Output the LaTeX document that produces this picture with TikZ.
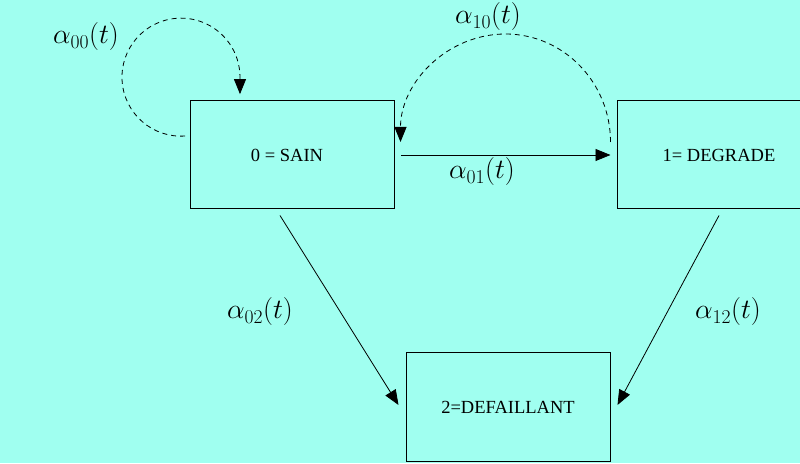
\RequirePackage{fix-cm}
\documentclass[tikz,border=0pt]{standalone}
\usepackage{fontspec}
\newfontfamily\boxfont{Liberation Serif}
\usetikzlibrary{arrows.meta}
\definecolor{bgc}{RGB}{160,255,240}
\tikzset{
  statebox/.style={draw=black, line width=1pt, minimum width=204pt, minimum height=108pt,
    inner sep=0pt, font=\boxfont\fontsize{18.5}{22}\selectfont},
  lab/.style={font=\fontsize{28}{33}\selectfont, inner sep=0pt},
  arr/.style={-{Triangle[length=15pt,width=12pt]}, line width=0.8pt},
  dsh/.style={arr, dash pattern=on 5pt off 4pt}
}
\begin{document}
\begin{tikzpicture}[x=1pt,y=1pt]
\useasboundingbox (0,0) rectangle (800,463);
\fill[bgc] (0,0) rectangle (800,463);
\node[statebox] (b0) at (292,308) {\hspace*{-10pt}0 = SAIN};
\node[statebox] (b1) at (719,308) {1= DEGRADE};
\node[statebox] (b2) at (508,56) {2=DEFAILLANT};
\node[lab] (l00) at (86,426) {$\alpha_{00}(t)$};
\node[lab] (l10) at (488,446) {$\alpha_{10}(t)$};
\node[lab] (l01) at (482,291) {$\alpha_{01}(t)$};
\node[lab] (l02) at (260,151) {$\alpha_{02}(t)$};
\node[lab] (l12) at (728,151) {$\alpha_{12}(t)$};
\draw[arr] ([xshift=6.5pt]b0.east) -- ([xshift=-6pt]b1.west);
\draw[arr] ([xshift=-12pt,yshift=-6pt]b0.south) -- ([xshift=-7pt,yshift=2pt]b2.west);
\draw[arr] ([yshift=-6pt]b1.south) -- ([xshift=7pt,yshift=2pt]b2.east);
\draw[dsh] ([xshift=-6pt,yshift=13pt]b1.west) arc[start angle=0,end angle=180,x radius=105,y radius=108];
\draw[dsh] ([xshift=-4.4pt,yshift=19pt]b0.west) arc[start angle=-86,end angle=-360,radius=59] -- ++(0,-17);
\end{tikzpicture}
\end{document}
